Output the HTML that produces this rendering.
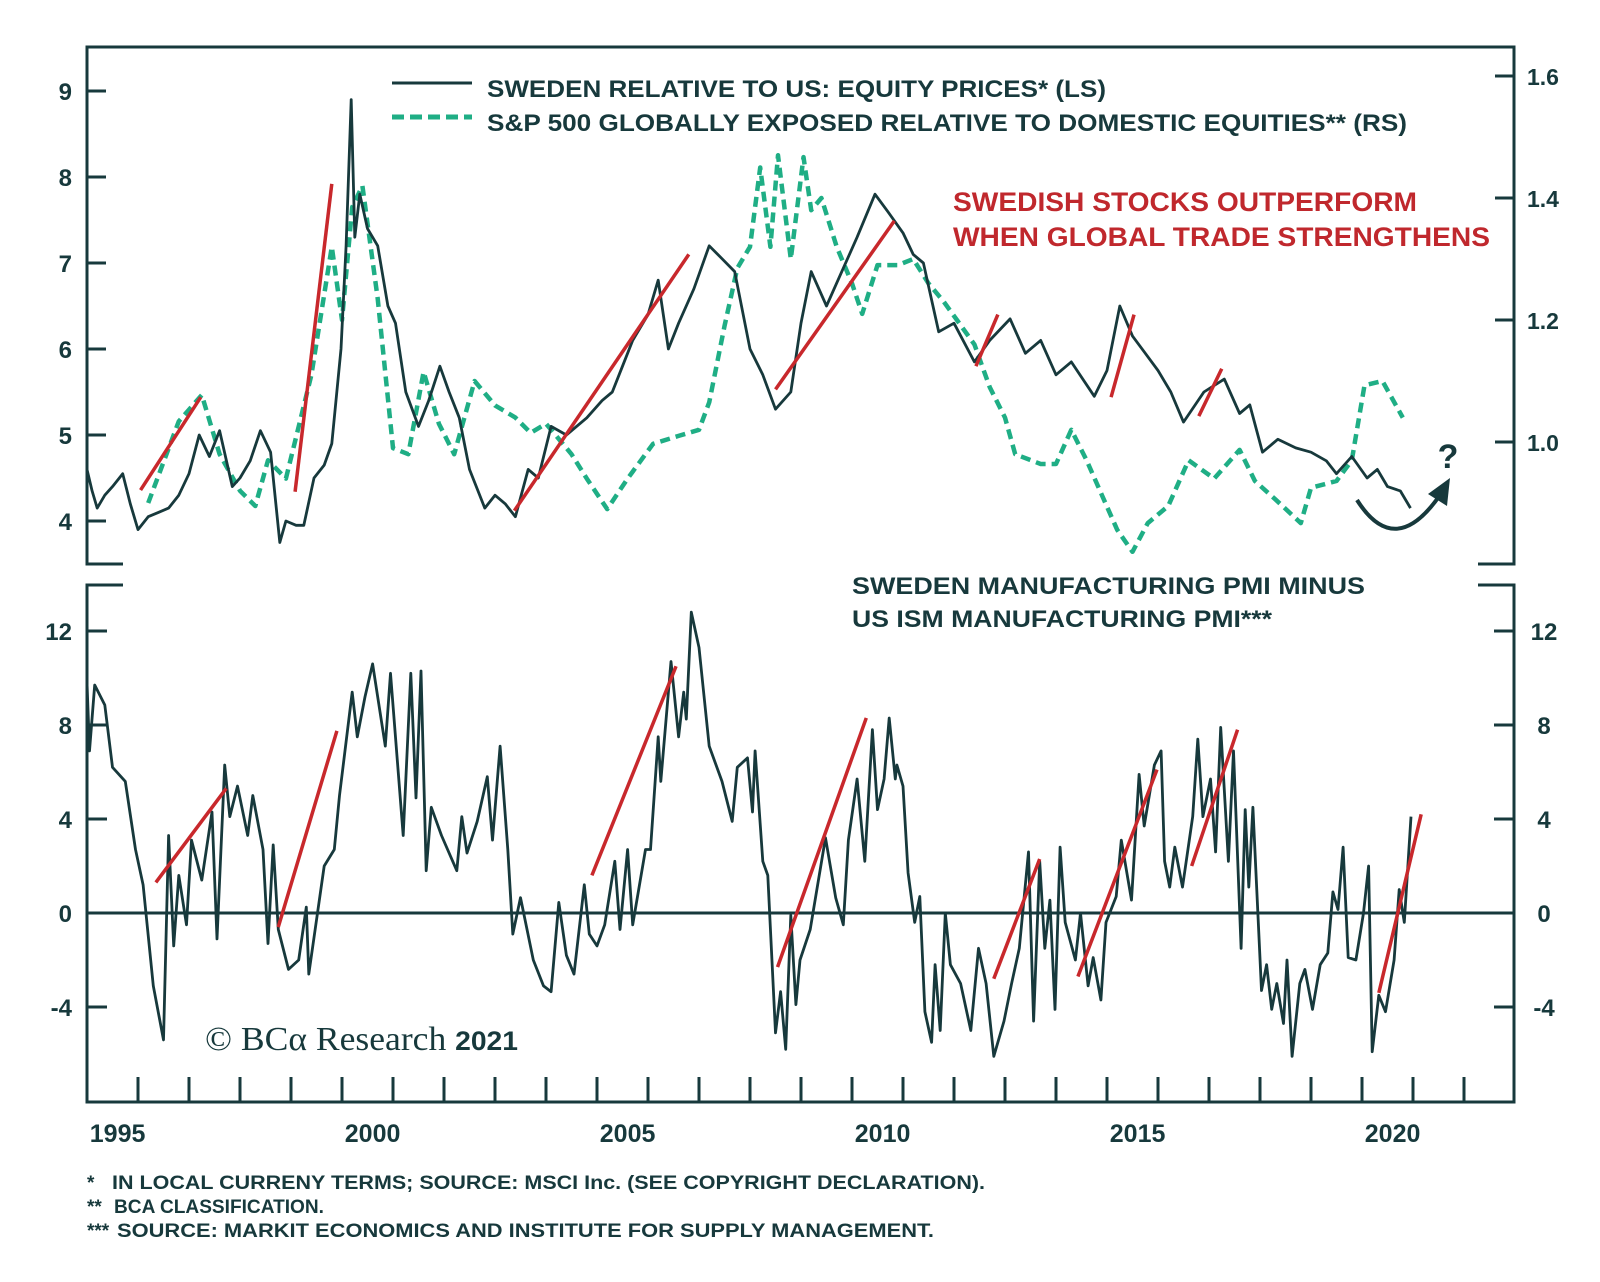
<!DOCTYPE html>
<html><head><meta charset="utf-8"><style>
html,body{margin:0;padding:0;background:#fff;}
svg{display:block;}
text{font-family:"Liberation Sans",sans-serif;font-weight:bold;fill:#17393c;}
</style></head><body>
<svg id="chart" width="1600" height="1282" viewBox="0 0 1600 1282" xmlns="http://www.w3.org/2000/svg">
<g id="frames" stroke="#17393c" stroke-width="3" fill="none">
  <path d="M123,564 H87 V47 H1514 V564 H1478"/>
  <path d="M123,585 H87 V1102 H1514 V585 H1478"/>
</g>
<g id="axes"></g>
<g id="series"></g>
<g>
  <line x1="392" y1="83" x2="472" y2="83" stroke="#17393c" stroke-width="3"/>
  <line x1="392" y1="117" x2="472" y2="117" stroke="#1fae85" stroke-width="5" stroke-dasharray="12 6"/>
  <text x="487" y="97" font-size="24" textLength="619" lengthAdjust="spacingAndGlyphs">SWEDEN RELATIVE TO US: EQUITY PRICES* (LS)</text>
  <text x="487" y="131" font-size="24" textLength="920" lengthAdjust="spacingAndGlyphs">S&amp;P 500 GLOBALLY EXPOSED RELATIVE TO DOMESTIC EQUITIES** (RS)</text>
</g>
<text x="953" y="211" font-size="27" style="fill:#c0282d" textLength="464" lengthAdjust="spacingAndGlyphs">SWEDISH STOCKS OUTPERFORM</text>
<text x="953" y="246" font-size="27" style="fill:#c0282d" textLength="537" lengthAdjust="spacingAndGlyphs">WHEN GLOBAL TRADE STRENGTHENS</text>
<text x="852" y="594" font-size="24" textLength="513" lengthAdjust="spacingAndGlyphs">SWEDEN MANUFACTURING PMI MINUS</text>
<text x="852" y="627" font-size="24" textLength="420" lengthAdjust="spacingAndGlyphs">US ISM MANUFACTURING PMI***</text>
<g>
  <path d="M1357,500 Q1395,560 1440,495" fill="none" stroke="#17393c" stroke-width="4"/>
  <path d="M1450,478 L1428,494 L1447,506 Z" fill="#17393c"/>
  <text x="1448" y="468" font-size="34" text-anchor="middle">?</text>
</g>
<text x="205" y="1050" font-size="34" textLength="313" lengthAdjust="spacingAndGlyphs" style="font-family:'Liberation Serif',serif;font-weight:normal">© BCα Research <tspan style="font-family:'Liberation Sans',sans-serif;font-weight:bold" font-size="27">2021</tspan></text>
<g font-size="19">
  <text x="87" y="1189">*</text>
  <text x="112" y="1189" textLength="873" lengthAdjust="spacingAndGlyphs">IN LOCAL CURRENY TERMS; SOURCE: MSCI Inc. (SEE COPYRIGHT DECLARATION).</text>
  <text x="87" y="1213">**</text>
  <text x="114" y="1213" textLength="210" lengthAdjust="spacingAndGlyphs">BCA CLASSIFICATION.</text>
  <text x="87" y="1237">***</text>
  <text x="117" y="1237" textLength="817" lengthAdjust="spacingAndGlyphs">SOURCE: MARKIT ECONOMICS AND INSTITUTE FOR SUPPLY MANAGEMENT.</text>
</g>
</svg>
<script>
const leftTicks = [4,5,6,7,8,9];
const rightTicks = [1.0,1.2,1.4,1.6];
const rightTickLabels = ["1.0","1.2","1.4","1.6"];
const pmiTicks = [-4,0,4,8,12];
const yearLabels = [1995,2000,2005,2010,2015,2020];

const swDates = [1995.0,1995.1,1995.2,1995.35,1995.5,1995.7,1995.85,1996.0,1996.2,1996.4,1996.6,1996.8,1997.0,1997.2,1997.4,1997.6,1997.85,1998.0,1998.2,1998.4,1998.6,1998.78,1998.9,1999.1,1999.25,1999.45,1999.65,1999.8,1999.98,2000.08,2000.18,2000.25,2000.35,2000.5,2000.7,2000.9,2001.05,2001.25,2001.5,2001.7,2001.92,2002.1,2002.3,2002.5,2002.8,2003.0,2003.2,2003.4,2003.65,2003.85,2004.1,2004.4,2004.8,2005.1,2005.3,2005.5,2005.7,2006.0,2006.2,2006.4,2006.6,2006.9,2007.2,2007.45,2007.7,2008.0,2008.25,2008.5,2008.8,2009.0,2009.2,2009.5,2009.8,2010.1,2010.45,2010.7,2011.0,2011.2,2011.4,2011.7,2012.0,2012.4,2012.7,2013.1,2013.4,2013.7,2014.0,2014.3,2014.75,2015.0,2015.25,2015.5,2015.75,2016.0,2016.25,2016.5,2016.9,2017.3,2017.6,2017.8,2018.05,2018.35,2018.7,2019.0,2019.3,2019.5,2019.8,2020.1,2020.3,2020.5,2020.75,2020.95];
const swValues = [4.6,4.35,4.15,4.3,4.4,4.55,4.2,3.9,4.05,4.1,4.15,4.3,4.55,5.0,4.75,5.05,4.4,4.5,4.7,5.05,4.8,3.75,4.0,3.95,3.95,4.5,4.65,4.9,6.0,7.2,8.9,7.3,7.8,7.4,7.2,6.5,6.3,5.5,5.1,5.4,5.8,5.5,5.2,4.6,4.15,4.3,4.2,4.05,4.6,4.5,5.1,5.0,5.2,5.4,5.5,5.8,6.1,6.4,6.8,6.0,6.3,6.7,7.2,7.05,6.9,6.0,5.7,5.3,5.5,6.3,6.9,6.5,6.9,7.3,7.8,7.6,7.35,7.1,7.0,6.2,6.3,5.85,6.1,6.35,5.95,6.1,5.7,5.85,5.45,5.75,6.5,6.15,5.95,5.75,5.5,5.15,5.5,5.65,5.25,5.35,4.8,4.95,4.85,4.8,4.7,4.55,4.75,4.5,4.6,4.4,4.35,4.15];

const spDates = [1996.2,1996.8,1997.25,1997.6,1998.0,1998.3,1998.55,1998.9,1999.4,1999.8,2000.0,2000.2,2000.4,2000.7,2001.0,2001.3,2001.6,2001.9,2002.2,2002.6,2003.0,2003.4,2003.7,2004.0,2004.5,2004.8,2005.2,2005.6,2006.1,2006.6,2007.0,2007.2,2007.5,2007.75,2008.0,2008.2,2008.4,2008.55,2008.8,2009.05,2009.2,2009.4,2009.7,2010.0,2010.2,2010.5,2010.9,2011.2,2011.5,2011.8,2012.1,2012.4,2012.7,2013.0,2013.2,2013.7,2014.0,2014.3,2014.6,2014.9,2015.2,2015.5,2015.8,2016.2,2016.6,2017.1,2017.6,2017.9,2018.3,2018.8,2019.0,2019.5,2019.8,2020.05,2020.4,2020.8];
const spValues = [0.9,1.034,1.077,0.98,0.92,0.895,0.97,0.94,1.11,1.32,1.2,1.385,1.42,1.235,0.99,0.98,1.115,1.03,0.98,1.1,1.06,1.04,1.015,1.03,0.98,0.94,0.89,0.94,0.997,1.01,1.02,1.065,1.19,1.285,1.32,1.45,1.32,1.47,1.3,1.467,1.38,1.4,1.32,1.26,1.21,1.29,1.29,1.3,1.26,1.23,1.195,1.16,1.09,1.04,0.98,0.964,0.964,1.02,0.97,0.913,0.856,0.82,0.867,0.895,0.97,0.94,0.987,0.936,0.906,0.867,0.925,0.936,0.97,1.093,1.1,1.04];

const pmiDates = [1995.0,1995.05,1995.15,1995.35,1995.5,1995.75,1995.95,1996.1,1996.3,1996.5,1996.6,1996.7,1996.8,1996.95,1997.05,1997.25,1997.45,1997.55,1997.7,1997.8,1997.95,1998.15,1998.25,1998.45,1998.55,1998.65,1998.75,1998.95,1999.15,1999.3,1999.35,1999.65,1999.85,1999.95,2000.2,2000.3,2000.45,2000.6,2000.85,2000.95,2001.2,2001.35,2001.45,2001.55,2001.65,2001.75,2001.95,2002.25,2002.35,2002.45,2002.65,2002.85,2002.95,2003.1,2003.25,2003.35,2003.5,2003.75,2003.95,2004.1,2004.25,2004.4,2004.55,2004.75,2004.85,2005.0,2005.15,2005.35,2005.45,2005.6,2005.7,2005.95,2006.05,2006.2,2006.25,2006.45,2006.6,2006.7,2006.75,2006.85,2007.0,2007.2,2007.45,2007.65,2007.75,2007.95,2008.05,2008.1,2008.25,2008.35,2008.5,2008.6,2008.7,2008.8,2008.9,2008.98,2009.18,2009.48,2009.68,2009.83,2009.93,2010.1,2010.25,2010.4,2010.5,2010.63,2010.73,2010.85,2010.88,2011.0,2011.1,2011.23,2011.33,2011.43,2011.56,2011.63,2011.73,2011.83,2011.93,2012.13,2012.33,2012.48,2012.63,2012.78,2012.98,2013.13,2013.28,2013.46,2013.56,2013.68,2013.78,2013.88,2013.98,2014.08,2014.18,2014.38,2014.48,2014.63,2014.73,2014.88,2014.98,2015.18,2015.28,2015.48,2015.63,2015.73,2015.93,2016.06,2016.13,2016.23,2016.33,2016.48,2016.68,2016.78,2016.88,2017.03,2017.13,2017.23,2017.38,2017.48,2017.63,2017.71,2017.78,2017.86,2018.03,2018.13,2018.23,2018.33,2018.46,2018.53,2018.63,2018.78,2018.88,2019.03,2019.18,2019.33,2019.43,2019.53,2019.63,2019.73,2019.88,2020.03,2020.13,2020.2,2020.33,2020.46,2020.63,2020.73,2020.83,2020.96];
const pmiValues = [9.8,6.9,9.7,8.85,6.2,5.6,2.7,1.2,-3.1,-5.4,3.3,-1.4,1.6,-0.5,3.1,1.4,4.3,-1.1,6.3,4.1,5.4,3.3,5.0,2.7,-1.3,2.9,-0.7,-2.4,-2.0,0.25,-2.6,2.0,2.7,5.0,9.4,7.5,9.2,10.6,7.1,10.2,3.3,10.2,4.9,10.3,1.8,4.5,3.3,1.8,4.1,2.55,3.9,5.8,3.1,7.1,2.7,-0.9,0.65,-2.0,-3.1,-3.35,0.45,-1.8,-2.6,1.2,-0.9,-1.4,-0.5,2.2,-0.7,2.7,-0.5,2.7,2.7,7.5,5.6,10.7,7.5,9.4,8.25,12.8,11.3,7.1,5.6,3.9,6.2,6.6,4.3,6.9,2.2,1.6,-5.1,-3.35,-5.8,-0.1,-3.9,-2.0,-0.7,3.2,0.65,-0.5,3.1,5.7,2.2,7.8,4.4,5.7,8.3,5.7,6.3,5.4,1.7,-0.4,0.7,-4.2,-5.5,-2.2,-5.0,0,-2.2,-3.0,-5.0,-1.5,-3.0,-6.1,-4.6,-3.0,-1.5,2.6,-4.6,2.2,-1.5,0.55,-4.1,2.8,-0.4,-2.0,0,-3.1,-1.9,-3.7,-0.4,0.7,3.1,0.55,5.9,3.7,6.3,6.9,2.2,1.1,2.8,1.1,4.1,7.4,4.1,5.7,2.6,7.9,2.2,6.9,-1.5,4.4,1.1,4.5,-3.3,-2.2,-4.1,-3.0,-4.7,-2.0,-6.1,-3.0,-2.4,-4.1,-2.2,-1.7,0.9,0.15,2.8,-1.9,-2.0,0,2.0,-5.9,-3.5,-4.2,-2.0,1.0,-0.4,4.1];

const redTopStart = [[1996.05,4.36],[1999.08,4.34],[2003.38,4.12],[2008.5,5.53],[2012.43,5.8],[2015.08,5.44],[2016.8,5.22]];
const redTopEnd = [[1997.23,5.44],[1999.8,7.92],[2006.8,7.1],[2010.83,7.49],[2012.86,6.4],[2015.53,6.4],[2017.25,5.77]];
const redPmiStart = [[1996.35,1.3],[1998.75,-0.6],[2004.9,1.6],[2008.54,-2.3],[2012.78,-2.8],[2014.43,-2.7],[2016.66,2.0],[2020.33,-3.4]];
const redPmiEnd = [[1997.73,5.3],[1999.9,7.75],[2006.55,10.5],[2010.28,8.3],[2013.68,2.3],[2015.98,6.1],[2017.56,7.8],[2021.16,4.2]];

const NS = "http://www.w3.org/2000/svg";
function xS(t){ return 87 + (t - 1995) * 51; }
function yL(v){ return 521 - (v - 4) * 86; }
function yR(v){ return 442 - (v - 1.0) * 610; }
function yP(v){ return 913 - v * 23.5; }
function mk(tag, attrs, parent){ const e = document.createElementNS(NS, tag); for (const k in attrs) e.setAttribute(k, attrs[k]); parent.appendChild(e); return e; }
const axes = document.getElementById('axes');
const series = document.getElementById('series');
const INK = "#17393c";

leftTicks.forEach(v => {
  const l = mk('line', {x1:87, x2:106, y1:yL(v), y2:yL(v), stroke:INK, 'stroke-width':3}, axes);
  
  
  const t = mk('text', {x:72, y:yL(v)+9, 'text-anchor':'end', 'font-size':24}, axes);
  t.textContent = v;
  
  
});
rightTicks.forEach((v, i) => {
  const l = mk('line', {x1:1495, x2:1514, y1:yR(v), y2:yR(v), stroke:INK, 'stroke-width':3}, axes);
  
  
  const t = mk('text', {x:1527, y:yR(v)+9, 'font-size':23}, axes);
  t.textContent = rightTickLabels[i];
  
  
});
pmiTicks.forEach(v => {
  if (v !== 0) {
    const a = mk('line', {x1:87, x2:107, y1:yP(v), y2:yP(v), stroke:INK, 'stroke-width':3}, axes);
    
    
    const b = mk('line', {x1:1494, x2:1514, y1:yP(v), y2:yP(v), stroke:INK, 'stroke-width':3}, axes);
    
    
  }
  const t1 = mk('text', {x:72, y:yP(v)+9, 'text-anchor':'end', 'font-size':24}, axes);
  t1.textContent = v;
  
  
  const t2 = mk('text', {x:1544, y:yP(v)+9, 'text-anchor':'middle', 'font-size':24}, axes);
  t2.textContent = v;
  
  
});
const zl = mk('line', {x1:87, x2:1514, y1:yP(0), y2:yP(0), stroke:INK, 'stroke-width':3}, axes);


for (let yr = 1996; yr <= 2022; yr++) {
  const l = mk('line', {x1:xS(yr), x2:xS(yr), y1:1077, y2:1102, stroke:INK, 'stroke-width':3}, axes);
  
  
}
yearLabels.forEach(yr => {
  const t = mk('text', {x:xS(yr+0.6), y:1142, 'text-anchor':'middle', 'font-size':25}, axes);
  t.textContent = yr;
  
  
});

function pathOf(dates, vals, yf){ return dates.map((d,i)=> (i?'L':'M') + xS(d).toFixed(1) + ',' + yf(vals[i]).toFixed(1)).join(' '); }
const sp = mk('path', {d:pathOf(spDates, spValues, yR), fill:'none', stroke:'#1fae85', 'stroke-width':4.5, 'stroke-dasharray':'10 6', 'stroke-linejoin':'round'}, series);


const sw = mk('path', {d:pathOf(swDates, swValues, yL), fill:'none', stroke:INK, 'stroke-width':2.8, 'stroke-linejoin':'round'}, series);


const pm = mk('path', {d:pathOf(pmiDates, pmiValues, yP), fill:'none', stroke:INK, 'stroke-width':2.8, 'stroke-linejoin':'round'}, series);


redTopStart.forEach((s, i) => {
  const e = redTopEnd[i];
  const l = mk('line', {x1:xS(s[0]), y1:yL(s[1]), x2:xS(e[0]), y2:yL(e[1]), stroke:'#c8282c', 'stroke-width':3.5}, series);
  
  
});
redPmiStart.forEach((s, i) => {
  const e = redPmiEnd[i];
  const l = mk('line', {x1:xS(s[0]), y1:yP(s[1]), x2:xS(e[0]), y2:yP(e[1]), stroke:'#c8282c', 'stroke-width':3.5}, series);
  
  
});
</script>
</body></html>
